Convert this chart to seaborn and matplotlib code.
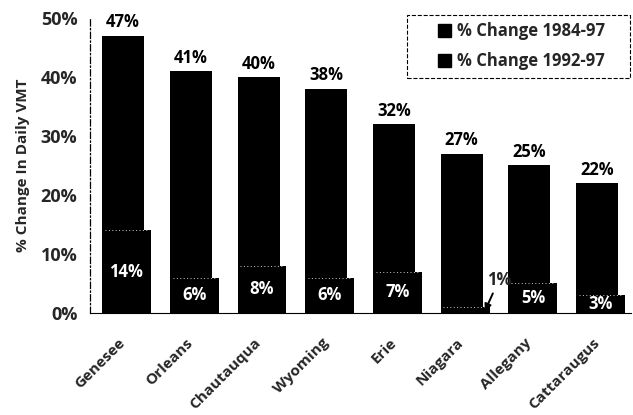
import matplotlib
matplotlib.use("Agg")
import matplotlib.pyplot as plt
from matplotlib.patches import Patch, Rectangle
import seaborn as sns
import pandas as pd

counties = ["Genesee", "Orleans", "Chautauqua", "Wyoming", "Erie",
            "Niagara", "Allegany", "Cattaraugus"]
change_84_97 = [47, 41, 40, 38, 32, 27, 25, 22]
change_92_97 = [14, 6, 8, 6, 7, 1, 5, 3]
series_names = ["% Change 1984-97", "% Change 1992-97"]
y_ticks = [0, 10, 20, 30, 40, 50]

sns.set_style("white")
plt.rcParams["font.family"] = ["Open Sans", "DejaVu Sans"]
plt.rcParams["font.weight"] = "bold"

df = pd.DataFrame({"county": counties, "a": change_84_97, "b": change_92_97})

fig = plt.figure(figsize=(6.33, 4.15), dpi=100)
ax = fig.add_axes([0.142, 0.246, 0.855, 0.711])

sns.barplot(data=df, x="county", y="a", color="black", width=0.62,
            saturation=1, edgecolor="black", linewidth=0, ax=ax)
n_big = len(ax.patches)
sns.barplot(data=df, x="county", y="b", color="black", width=0.72,
            saturation=1, edgecolor="black", linewidth=0, ax=ax)
small = ax.patches[n_big:]
big = ax.patches[:n_big]
# small bars share the left edge of the big ones and stick out to the right
for p in small:
    p.set_x(p.get_x() + 0.05)
    x0, w, h = p.get_x(), p.get_width(), p.get_height()
    ax.plot([x0 + 0.04, x0 + w - 0.04], [h, h], color="white", lw=0.7,
            ls=(0, (1, 2.5)), alpha=0.8, zorder=3)

# value labels
for p, v in zip(big, change_84_97):
    ax.annotate(f"{v}%", (p.get_x() + p.get_width() / 2, v), xytext=(0, 3),
                textcoords="offset points", ha="center", va="bottom",
                fontsize=12, fontweight="bold", color="black")
for p, v in zip(small, change_92_97):
    cx = p.get_x() + p.get_width() / 2
    if v < 2:
        ax.annotate(f"{v}%", xy=(cx + 0.29, 0.3), xytext=(cx + 0.5, 5.6),
                    ha="center", va="center", fontsize=12, fontweight="bold",
                    arrowprops=dict(arrowstyle="-|>", color="black", lw=1.4,
                                    mutation_scale=10, shrinkA=1, shrinkB=0))
    else:
        ax.text(cx, v / 2, f"{v}%", ha="center", va="center", fontsize=12,
                fontweight="bold", color="white")

ax.set_ylim(0, 50)
ax.set_xlim(-0.49, 7.5)
ax.set_yticks(y_ticks)
ax.set_yticklabels([f"{t}%" for t in y_ticks], fontsize=13, fontweight="bold")
ax.set_xticks(range(len(counties)))
ax.set_xticklabels(counties, rotation=45, ha="right", va="center",
                   rotation_mode="anchor", fontsize=11, fontweight="bold")
ax.set_xticks([i + 0.5 for i in range(len(counties) - 1)], minor=True)
ax.tick_params(axis="x", which="major", length=0, pad=20)
ax.tick_params(axis="x", which="minor", length=5, width=0.8, direction="out",
               color="black")
ax.tick_params(axis="y", length=6, width=0.8, direction="inout", color="black",
               pad=6)
ax.set_xlabel("")
ax.set_ylabel("% Change In Daily VMT", fontsize=11, fontweight="bold",
              labelpad=8)

for s in ["top", "right"]:
    ax.spines[s].set_visible(False)
ax.spines["left"].set_linestyle((0, (5, 2, 1, 2)))
ax.spines["left"].set_linewidth(0.9)
ax.spines["left"].set_color("black")
ax.spines["bottom"].set_linewidth(0.8)
ax.spines["bottom"].set_color("black")

# legend, with its dashed box drawn separately (more room on the left)
handles = [Patch(facecolor="black", edgecolor="black", label=n)
           for n in series_names]
leg = ax.legend(handles=handles, loc="upper left",
                bbox_to_anchor=(0.643, 0.985), fontsize=12, frameon=False,
                handlelength=0.8, handleheight=0.8, handletextpad=0.35,
                borderpad=0, labelspacing=0.7, borderaxespad=0)
for t in leg.get_texts():
    t.set_fontweight("bold")
ax.add_patch(Rectangle((0.586, 0.797), 0.412, 0.213, transform=ax.transAxes,
                       fill=False, edgecolor="black", lw=0.8, ls="--",
                       clip_on=False, zorder=4))

fig.savefig("out.png", dpi=100)
